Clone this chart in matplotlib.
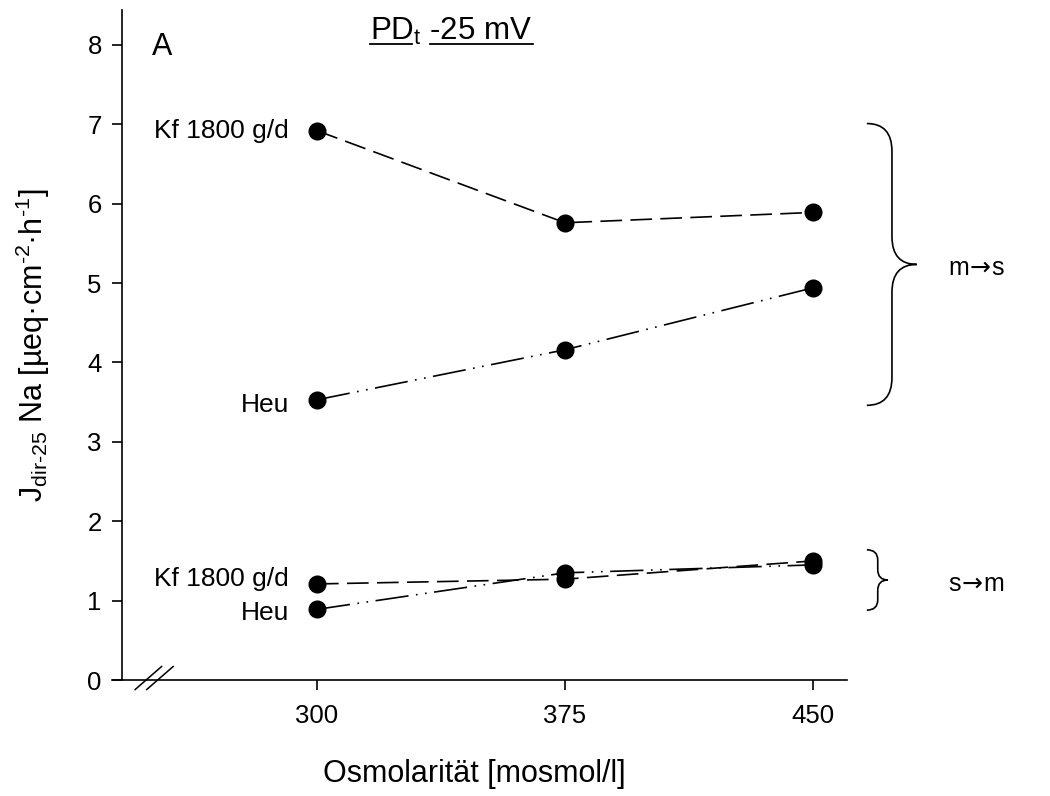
import matplotlib
matplotlib.use("Agg")
import matplotlib.pyplot as plt
from matplotlib.path import Path
from matplotlib.patches import PathPatch
from matplotlib.lines import Line2D

plt.rcParams["font.family"] = ["Liberation Sans", "DejaVu Sans"]
plt.rcParams["mathtext.fontset"] = "custom"
plt.rcParams["mathtext.rm"] = "Liberation Sans"
plt.rcParams["mathtext.it"] = "Liberation Sans:italic"
plt.rcParams["axes.unicode_minus"] = False

# osmolarity levels (mosmol/l)
osmo = [300, 375, 450]
# Na flux, mucosa -> serosa
ms_kf = [6.92, 5.76, 5.89]
ms_heu = [3.53, 4.16, 4.94]
# Na flux, serosa -> mucosa
sm_kf = [1.21, 1.27, 1.50]
sm_heu = [0.89, 1.35, 1.45]

DASH = (0, (13, 5))
DASHDOTDOT = (0, (20, 4.5, 1, 4.5, 1, 4.5))


def brace(ax, x0, x1, x2, top, bot, r, lw=1.2):
    mid = (top + bot) / 2
    verts = [(x0, top), (x1, top), (x1, top - r), (x1, mid + r),
             (x1, mid), (x2, mid), (x1, mid), (x1, mid - r),
             (x1, bot + r), (x1, bot), (x0, bot)]
    codes = [Path.MOVETO, Path.CURVE3, Path.CURVE3, Path.LINETO,
             Path.CURVE3, Path.CURVE3, Path.CURVE3, Path.CURVE3,
             Path.LINETO, Path.CURVE3, Path.CURVE3]
    ax.add_patch(PathPatch(Path(verts, codes), fill=False, lw=lw,
                           color="black", clip_on=False))


def arrow_label(fig, parts, x, y, fs):
    # pieces laid out one after another; the arrow comes from DejaVu Sans
    r = fig.canvas.get_renderer()
    for i, t in enumerate(parts):
        fam = ["DejaVu Sans"] if i == 1 else ["Liberation Sans"]
        txt = fig.text(x / 1050, 1 - y / 796, t, ha="left", va="center",
                       fontsize=fs, family=fam)
        x = txt.get_window_extent(r).x1 + 1


fig = plt.figure(figsize=(10.5, 7.96), dpi=100)
ax = fig.add_axes([112 / 1050, 1 - 680 / 796, 735 / 1050, 670 / 796])

mk = dict(marker="o", markersize=12, color="black", lw=1.2, clip_on=False)
ax.plot(osmo, ms_kf, linestyle=DASH, **mk)
ax.plot(osmo, ms_heu, linestyle=DASHDOTDOT, **mk)
ax.plot(osmo, sm_kf, linestyle=DASH, **mk)
ax.plot(osmo, sm_heu, linestyle=DASHDOTDOT, **mk)

ax.set_xlim(238, 460.3)
ax.set_ylim(0, 8.44)
ax.spines["top"].set_visible(False)
ax.spines["right"].set_visible(False)
ax.spines["left"].set_position(("data", 241))
ax.spines["left"].set_bounds(0, 8.44)
for s in ("left", "bottom"):
    ax.spines[s].set_linewidth(1.2)

ax.set_xticks(osmo)
ax.set_yticks(range(0, 9))
ax.tick_params(axis="both", direction="out", length=7.5, width=1.2, labelsize=18.5)
ax.tick_params(axis="x", pad=10)
ax.tick_params(axis="y", pad=7)

# axis break marks on the x axis
for xs in ((245, 253), (248.5, 256.5)):
    ax.add_line(Line2D(xs, (-0.12, 0.17), color="black", lw=1.1, clip_on=False))

fs = 19
ax.text(291.5, 6.91, "Kf 1800 g/d", ha="right", va="center", fontsize=fs)
ax.text(291.5, 3.47, "Heu", ha="right", va="center", fontsize=fs)
ax.text(291.5, 1.27, "Kf 1800 g/d", ha="right", va="center", fontsize=fs)
ax.text(291.5, 0.85, "Heu", ha="right", va="center", fontsize=fs)

ax.text(253.2, 7.98, "A", ha="center", va="center", fontsize=22)

brace(ax, 466.3, 473.9, 481.4, 7.01, 3.46, 0.35)
brace(ax, 466.3, 469.6, 472.7, 1.64, 0.88, 0.13)
arrow_label(fig, ["m", "\u2192", "s"], 948, 268, 18)
arrow_label(fig, ["s", "\u2192", "m"], 948, 584, 18)

# title with underline
fig.text(370 / 1050, 1 - 40 / 796, r"PD$_{\rm t}$ -25 mV", ha="left",
         va="baseline", fontsize=22.5)
for x0, x1 in ((370, 412), (430, 533)):
    fig.add_artist(Line2D((x0 / 1050, x1 / 1050), (1 - 44 / 796, 1 - 44 / 796),
                          color="black", lw=1.3))

fig.text(474 / 1050, 1 - 774 / 796, "Osmolarität [mosmol/l]", ha="center",
         va="center", fontsize=22)
fig.text(33 / 1050, 1 - 345 / 796,
         r"J$_{\mathrm{dir}\text{-}25}$ Na [µeq·cm$^{\text{-}2}$·h$^{\text{-}1}$]",
         ha="center", va="center", rotation=90, fontsize=22)

fig.savefig("out.png", dpi=100)
